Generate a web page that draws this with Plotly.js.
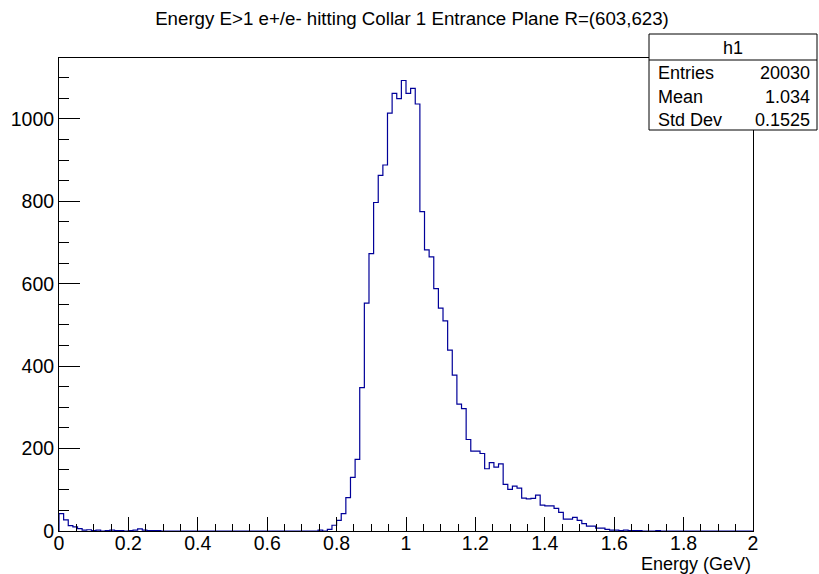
<!DOCTYPE html>
<html><head><meta charset="utf-8">
<script src="https://cdn.plot.ly/plotly-3.0.1.min.js"></script>
<style>html,body{margin:0;padding:0;background:#fff;} #chart{width:819px;height:574px;}</style>
</head><body><div id="chart"></div>
<script>
const histTitle = "Energy E>1 e+/e- hitting Collar 1 Entrance Plane R=(603,623)";
const xAxisTitle = "Energy (GeV)";
const histName = "h1";
const xMin = 0, xMax = 2, nBins = 150;
// bins 0-57
const countsLow = [42,27,13,10,6,2,3,1,2,0,1,2,1,1,0,1,2,5,2,1,1,1,
  0,0,0,0,0,0,0,0,0,0,0,0,0,0,0,0,0,0,0,0,0,0,0,0,0,0,0,0,0,0,0,0,0,0,2,0];
// bins 58-103
const countsPeak = [4,14,26,42,81,130,174,348,553,673,797,863,888,1014,1062,1049,1093,
  1062,1074,1036,775,682,665,588,541,510,439,378,308,297,222,194,194,188,
  151,166,155,163,113,101,109,104,80,78,79,87];
// bins 104-149
const countsTail = [63,61,61,55,45,29,29,33,26,18,12,12,7,7,4,2,2,1,2,1,1,1,0,0,0,1,
  0,0,0,0,0,0,0,0,0,0,0,0,0,0,0,0,0,0,0,0];
const statLabels = ["Entries","Mean","Std Dev"];
const statValues = ["20030","1.034","0.1525"];

const counts = countsLow.concat(countsPeak, countsTail);
const w = (xMax - xMin) / nBins;
const xs = [xMin], ys = [0];
for (let i = 0; i < nBins; i++) { xs.push(xMin + i * w); ys.push(counts[i]); }
xs.push(xMax); ys.push(counts[nBins - 1]);
const yMax = Math.max(...counts) * 1.05;

const FONT = "Liberation Sans, Arial, Helvetica, sans-serif";
// plot area in pixels
const L = 59, R = 66, T = 58, B = 43, W = 819 - L - R, H = 574 - T - B;
const px = v => (v - L) / W;
const py = v => (574 - B - v) / H;

const trace = {
  type: 'scatter', mode: 'lines', x: xs, y: ys,
  line: {shape: 'hv', color: '#000099', width: 1.2},
  hoverinfo: 'skip', showlegend: false
};

const annotations = [
  {text: histName, x: px(733), y: py(48), xref: 'paper', yref: 'paper', xanchor: 'center', yanchor: 'middle', showarrow: false, font: {family: FONT, size: 18, color: '#000'}},
  {text: xAxisTitle, x: 1, y: py(564), xref: 'paper', yref: 'paper', xanchor: 'right', yanchor: 'middle', showarrow: false, font: {family: FONT, size: 18, color: '#000'}}
];
const rowY = [73, 97, 120];
statLabels.forEach((lab, i) => {
  annotations.push({text: lab, x: px(656), y: py(rowY[i]), xref: 'paper', yref: 'paper', xanchor: 'left', yanchor: 'middle', showarrow: false, font: {family: FONT, size: 18, color: '#000'}});
  annotations.push({text: statValues[i], x: px(812), y: py(rowY[i]), xref: 'paper', yref: 'paper', xanchor: 'right', yanchor: 'middle', showarrow: false, font: {family: FONT, size: 18, color: '#000'}});
});

const layout = {
  width: 819, height: 574,
  paper_bgcolor: '#fff', plot_bgcolor: '#fff',
  margin: {l: L, r: R, t: T, b: B, pad: 0},
  font: {family: FONT, color: '#000'},
  title: {text: histTitle, x: 412 / 819, xref: 'container', xanchor: 'center', y: 1 - 18 / 574, yref: 'container', yanchor: 'middle', font: {family: FONT, size: 18.7, color: '#000'}},
  xaxis: {
    range: [xMin, xMax], tick0: 0, dtick: 0.2, ticks: 'inside', ticklen: 14, tickwidth: 1, tickcolor: '#000',
    showline: true, linecolor: '#000', linewidth: 1, mirror: true, showgrid: false, zeroline: false,
    ticklabelstandoff: -5,
    tickfont: {family: FONT, size: 19.5, color: '#000'},
    minor: {tick0: 0, dtick: 0.05, ticks: 'inside', ticklen: 7, tickwidth: 1, tickcolor: '#000', showgrid: false}
  },
  yaxis: {
    range: [0, yMax], tick0: 0, dtick: 200, ticks: 'inside', ticklen: 21, tickwidth: 1, tickcolor: '#000',
    showline: true, linecolor: '#000', linewidth: 1, mirror: true, showgrid: false, zeroline: false,
    tickfont: {family: FONT, size: 19.5, color: '#000'},
    minor: {tick0: 0, dtick: 50, ticks: 'inside', ticklen: 10, tickwidth: 1, tickcolor: '#000', showgrid: false}
  },
  shapes: [
    {type: 'rect', xref: 'paper', yref: 'paper', x0: px(649), x1: px(817), y0: py(130), y1: py(34), fillcolor: '#fff', line: {color: '#000', width: 1}, layer: 'above'},
    {type: 'line', xref: 'paper', yref: 'paper', x0: px(649), x1: px(817), y0: py(60), y1: py(60), line: {color: '#000', width: 1}, layer: 'above'}
  ],
  annotations: annotations
};

Plotly.newPlot('chart', [trace], layout, {displayModeBar: false, staticPlot: true});
</script></body></html>
